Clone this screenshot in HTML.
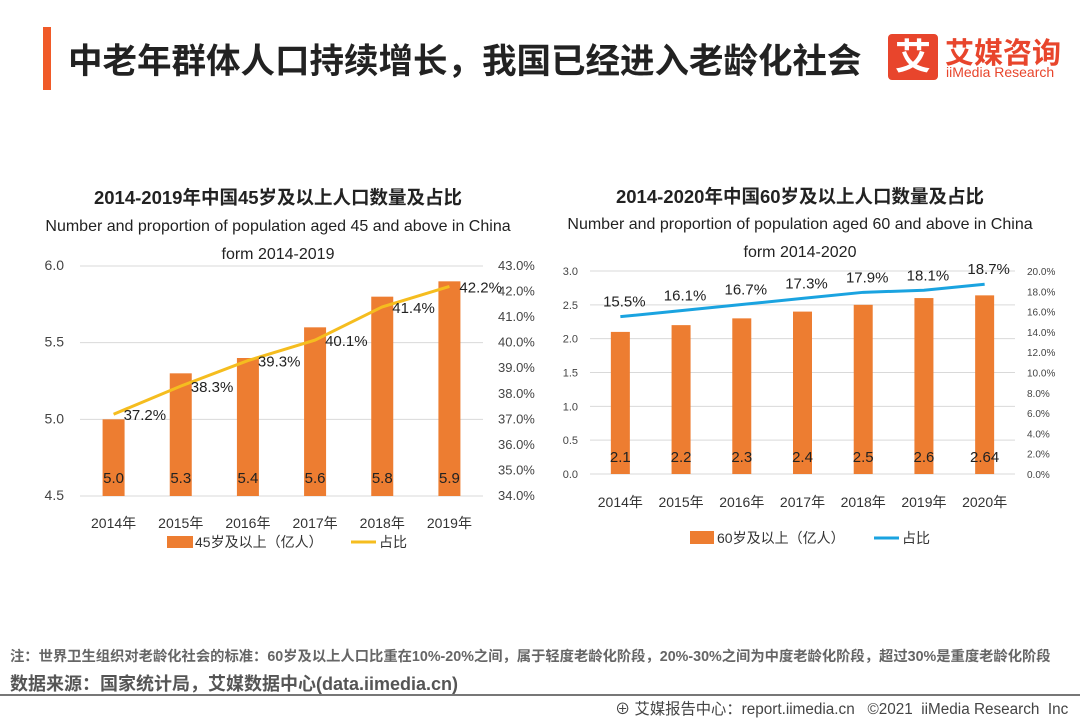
<!DOCTYPE html>
<html><head><meta charset="utf-8"><style>
body{margin:0;width:1080px;height:720px;background:#fff;overflow:hidden;font-family:"Liberation Sans","Noto Sans CJK SC",sans-serif;position:relative}
.a{position:absolute;white-space:nowrap}
</style></head><body>
<div class="a" style="left:43px;top:27px;width:8px;height:63px;background:#f05a28"></div>
<div class="a" style="left:68px;top:33px;font-size:34.5px;font-weight:bold;color:#222">中老年群体人口持续增长，我国已经进入老龄化社会</div>
<div class="a" style="left:888px;top:34px;width:50px;height:46px;background:#e8452c;border-radius:4px;color:#fff;font-size:36px;font-weight:bold;text-align:center;line-height:46px">艾</div>
<div class="a" style="left:945px;top:30px;font-size:29px;font-weight:bold;color:#e8452c">艾媒咨询</div>
<div class="a" style="left:946px;top:64px;font-size:14px;color:#e8452c">iiMedia Research</div>

<div class="a" style="left:278px;top:184px;transform:translateX(-50%);font-size:18.5px;font-weight:bold;color:#222">2014-2019年中国45岁及以上人口数量及占比</div>
<div class="a" style="left:278px;top:213px;transform:translateX(-50%);font-size:16px;color:#222;text-align:center;line-height:28px">Number and proportion of population aged 45 and above in China<br>form 2014-2019</div>
<div class="a" style="left:800px;top:183px;transform:translateX(-50%);font-size:18.5px;font-weight:bold;color:#222">2014-2020年中国60岁及以上人口数量及占比</div>
<div class="a" style="left:800px;top:211px;transform:translateX(-50%);font-size:16px;color:#222;text-align:center;line-height:28px">Number and proportion of population aged 60 and above in China<br>form 2014-2020</div>

<svg class="a" style="left:0;top:0" width="1080" height="720" id="svg"></svg>

<div class="a" style="left:10px;top:645px;font-size:14.3px;font-weight:bold;color:#666">注：世界卫生组织对老龄化社会的标准：60岁及以上人口比重在10%-20%之间，属于轻度老龄化阶段，20%-30%之间为中度老龄化阶段，超过30%是重度老龄化阶段</div>
<div class="a" style="left:10px;top:670px;font-size:18px;font-weight:bold;color:#555">数据来源：国家统计局，艾媒数据中心(data.iimedia.cn)</div>
<div class="a" style="left:0;top:694px;width:1080px;height:2px;background:#777"></div>
<div class="a" style="left:615px;top:697px;font-size:15.3px;color:#444">⊕ 艾媒报告中心：report.iimedia.cn &nbsp;&nbsp;©2021 &nbsp;iiMedia Research &nbsp;Inc</div>

<script>
const years1 = ["2014年","2015年","2016年","2017年","2018年","2019年"];
const values1 = [5.0,5.3,5.4,5.6,5.8,5.9];
const labels1 = ["5.0","5.3","5.4","5.6","5.8","5.9"];
const pct1 = [37.2,38.3,39.3,40.1,41.4,42.2];
const leftTicks1 = [4.5,5.0,5.5,6.0];
const rightTicks1 = [34,35,36,37,38,39,40,41,42,43];

const years2 = ["2014年","2015年","2016年","2017年","2018年","2019年","2020年"];
const values2 = [2.1,2.2,2.3,2.4,2.5,2.6,2.64];
const labels2 = ["2.1","2.2","2.3","2.4","2.5","2.6","2.64"];
const pct2 = [15.5,16.1,16.7,17.3,17.9,18.1,18.7];
const leftTicks2 = [0,0.5,1.0,1.5,2.0,2.5,3.0];
const rightTicks2 = [0,2,4,6,8,10,12,14,16,18,20];

const svg = document.getElementById('svg');
const NS = 'http://www.w3.org/2000/svg';
function mk(tag, attrs, name, text){
  const e = document.createElementNS(NS, tag);
  for (const k in attrs) e.setAttribute(k, attrs[k]);
  
  
  if (text !== undefined) e.textContent = text;
  svg.appendChild(e);
  return e;
}
function chart(o){
  const y = v => o.y0 - (v - o.lmin)/(o.lmax - o.lmin)*(o.y0 - o.y1);
  const yr = v => o.y0 - (v - o.rmin)/(o.rmax - o.rmin)*(o.y0 - o.y1);
  const step = (o.x1 - o.x0)/o.cats.length;
  const x = i => o.x0 + step*(i+0.5);
  o.lt.forEach(t=>{
    mk('line',{x1:o.x0,x2:o.x1,y1:y(t),y2:y(t),stroke:'#d9d9d9','stroke-width':1},'gridline');
    mk('text',{x:o.x0-o.lpad,y:y(t)+4,'font-size':o.tf,fill:'#444','text-anchor':'end'},'y-tick-label',t.toFixed(1));
  });
  o.rt.forEach(t=>{
    mk('text',{x:o.x1+o.rpad,y:yr(t)+4,'font-size':o.tf-1,fill:'#444'},'y2-tick-label',t.toFixed(1)+'%');
  });
  o.cats.forEach((c,i)=>{
    mk('rect',{x:x(i)-o.bw/2,y:y(o.vals[i]),width:o.bw,height:o.y0-y(o.vals[i]),fill:'#ed7d31'},'bar-'+c);
    mk('text',{x:x(i),y:o.vly,'font-size':15,fill:'#222','text-anchor':'middle'},'bar-value-label',o.labs[i]);
    mk('text',{x:x(i),y:o.xly,'font-size':14,fill:'#333','text-anchor':'middle'},'x-tick-label',c);
  });
  let d='';
  o.pct.forEach((p,i)=>{ d += (i?'L':'M') + x(i) + ',' + yr(p); });
  mk('path',{d:d,fill:'none',stroke:o.lc,'stroke-width':3},'proportion-line');
  o.pct.forEach((p,i)=>{
    mk('text',{x:x(i)+o.pdx,y:yr(p)+o.pdy,'font-size':15,fill:'#222','text-anchor':o.pa},'proportion-label',p.toFixed(1)+'%');
  });
}
chart({cats:years1,vals:values1,labs:labels1,pct:pct1,lt:leftTicks1,rt:rightTicks1,
  x0:80,x1:483,y0:496,y1:266,lmin:4.5,lmax:6.0,rmin:34,rmax:43,bw:22,tf:14,lpad:16,rpad:15,
  vly:483,xly:528,lc:'#f5bd1f',pdx:10,pdy:6,pa:'start'});
chart({cats:years2,vals:values2,labs:labels2,pct:pct2,lt:leftTicks2,rt:rightTicks2,
  x0:590,x1:1015,y0:474,y1:271,lmin:0,lmax:3.0,rmin:0,rmax:20,bw:19,tf:11,lpad:12,rpad:12,
  vly:462,xly:507,lc:'#1aa3e0',pdx:4,pdy:-10,pa:'middle'});
mk('rect',{x:167,y:536,width:26,height:12,fill:'#ed7d31'},'legend-bar-swatch');
mk('text',{x:195,y:547,'font-size':14,fill:'#333'},'legend-bar-label','45岁及以上（亿人）');
mk('line',{x1:351,x2:376,y1:542,y2:542,stroke:'#f5bd1f','stroke-width':3},'legend-line-swatch');
mk('text',{x:379,y:547,'font-size':14,fill:'#333'},'legend-line-label','占比');
mk('rect',{x:690,y:531,width:24,height:13,fill:'#ed7d31'},'legend-bar-swatch');
mk('text',{x:717,y:543,'font-size':14,fill:'#333'},'legend-bar-label','60岁及以上（亿人）');
mk('line',{x1:874,x2:899,y1:538,y2:538,stroke:'#1aa3e0','stroke-width':3},'legend-line-swatch');
mk('text',{x:902,y:543,'font-size':14,fill:'#333'},'legend-line-label','占比');
</script>
</body></html>
